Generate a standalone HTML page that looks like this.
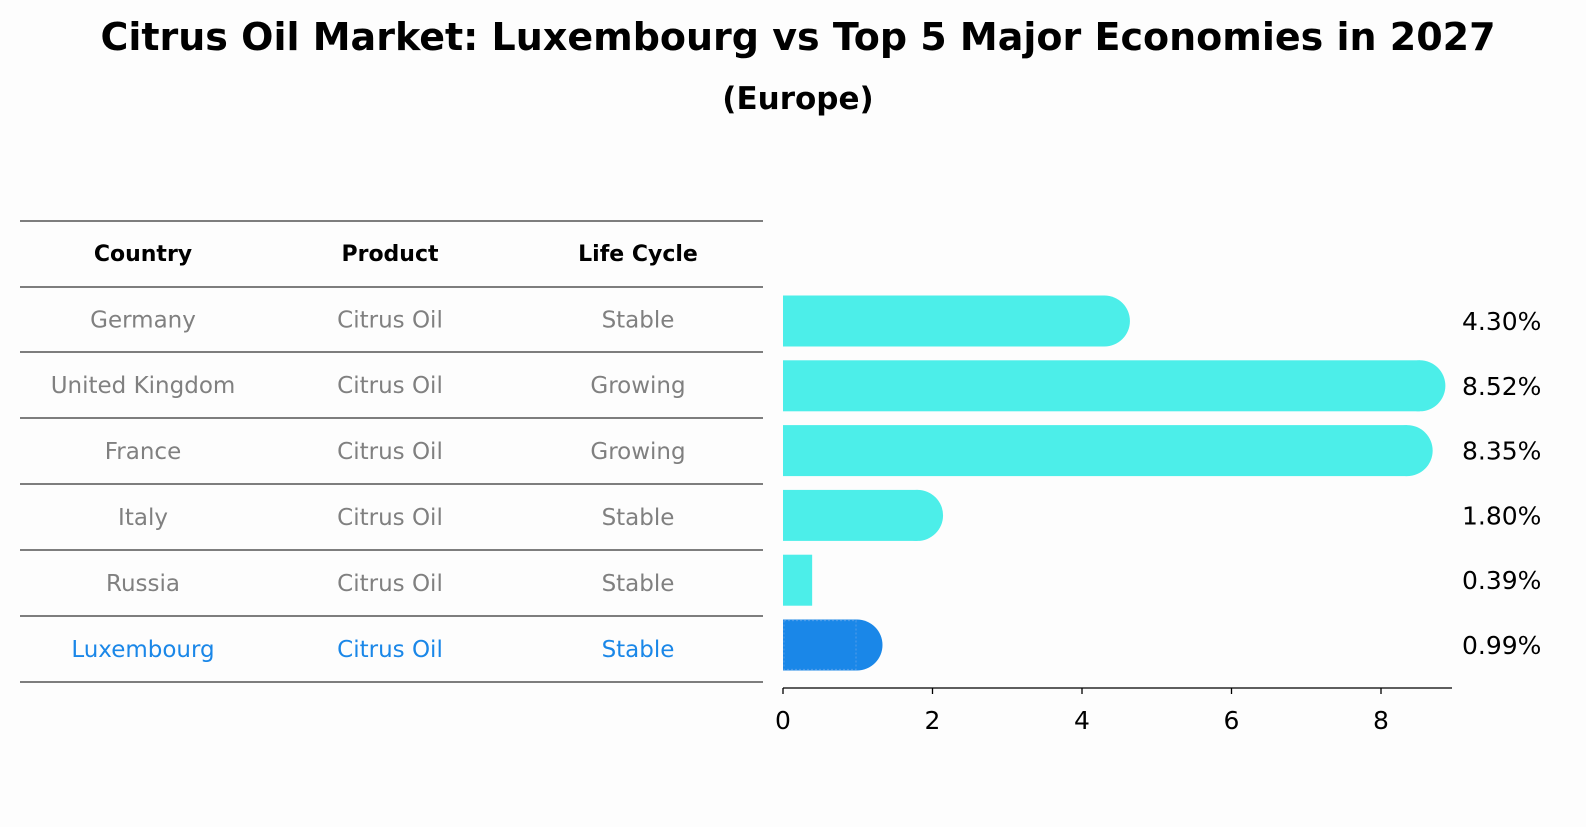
<!DOCTYPE html>
<html><head><meta charset="utf-8"><style>
body{margin:0;background:#fdfdfd;width:1586px;height:823px;overflow:hidden;font-family:"DejaVu Sans","Liberation Sans",sans-serif}
</style></head><body>
<svg width="1586" height="823" xmlns="http://www.w3.org/2000/svg" font-family="DejaVu Sans, Liberation Sans, sans-serif">
<text x="798" y="50" text-anchor="middle" font-size="38" font-weight="bold">Citrus Oil Market: Luxembourg vs Top 5 Major Economies in 2027</text>
<text x="798" y="109" text-anchor="middle" font-size="31" font-weight="bold">(Europe)</text>
<g id="table"></g>
<g id="bars"></g>
</svg>
<script>
const countries=["Germany","United Kingdom","France","Italy","Russia","Luxembourg"];
const products=["Citrus Oil","Citrus Oil","Citrus Oil","Citrus Oil","Citrus Oil","Citrus Oil"];
const lifecycle=["Stable","Growing","Growing","Stable","Stable","Stable"];
const values=[4.30,8.52,8.35,1.80,0.39,0.99];
const labels=["4.30%","8.52%","8.35%","1.80%","0.39%","0.99%"];
const ticks=[0,2,4,6,8];
const NS="http://www.w3.org/2000/svg";
function mk(tag,attrs,parent){const e=document.createElementNS(NS,tag);for(const k in attrs)e.setAttribute(k,attrs[k]);parent.appendChild(e);return e;}
const tbl=document.getElementById('table'),bars=document.getElementById('bars');
const lineY=[221,287,352,418,484,550,616,682];
lineY.forEach(y=>{const l=mk('line',{x1:20,x2:763,y1:y,y2:y,stroke:'#000','stroke-width':1},tbl);

});
const colX=[143,390,638];
["Country","Product","Life Cycle"].forEach((h,i)=>{const t=mk('text',{x:colX[i],y:261,'text-anchor':'middle','font-size':22,'font-weight':'bold'},tbl);t.textContent=h;

});
countries.forEach((c,r)=>{const y=(lineY[r+1]+lineY[r+2])/2+8;const col=r===5?'#1a87e8':'#808080';
[c,products[r],lifecycle[r]].forEach((v,i)=>{const t=mk('text',{x:colX[i],y:y,'text-anchor':'middle','font-size':23,fill:col},tbl);t.textContent=v;

});});
const x0=783,sc=(1381-783)/8;
const xs=v=>x0+v*sc;
const yc=i=>321+i*64.8;
const bh=51;
values.forEach((v,i)=>{const col=i===5?'#1a87e8':'#4ceee9';
const g=mk('g',{},bars);


mk('rect',{x:x0,y:yc(i)-bh/2,width:xs(v)-x0,height:bh,fill:col},g);
if(v>0.5)mk('circle',{cx:xs(v),cy:yc(i),r:bh/2,fill:col},g);
if(i===5)mk('rect',{x:x0+1,y:yc(i)-bh/2+1,width:xs(v)-x0-2,height:bh-2,fill:'none',stroke:'#4a9ae8','stroke-width':1.2,'stroke-dasharray':'2,2'},g);
const t=mk('text',{x:1462,y:yc(i)+9,'font-size':25},bars);t.textContent=labels[i];

});
const ax=mk('line',{x1:x0,x2:1452,y1:688,y2:688,stroke:'#000','stroke-width':1.3},bars);


ticks.forEach(tk=>{mk('line',{x1:xs(tk),x2:xs(tk),y1:688,y2:694,stroke:'#000','stroke-width':1.3},bars);
const t=mk('text',{x:xs(tk),y:729,'text-anchor':'middle','font-size':25},bars);t.textContent=tk;

});
</script>
</body></html>
